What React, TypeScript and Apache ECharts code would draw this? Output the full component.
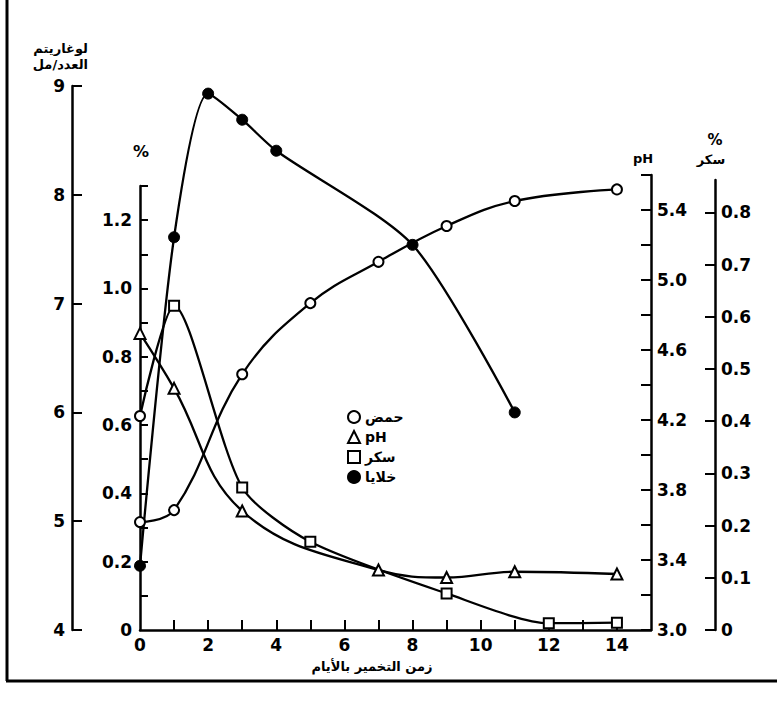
import React, { useEffect, useRef } from 'react';
import * as echarts from 'echarts';

// ---- data ----
const acidDays = [0, 1, 3, 5, 7, 9, 11, 14];
const acidValues = [0.316, 0.351, 0.749, 0.957, 1.078, 1.183, 1.256, 1.29];

const phDays = [0, 1, 3, 7, 9, 11, 14];
const phValues = [4.695, 4.381, 3.68, 3.343, 3.3, 3.333, 3.32];

const sugarDays = [0, 1, 3, 5, 9, 12, 14];
const sugarValues = [0.41, 0.621, 0.273, 0.169, 0.07, 0.013, 0.014];

const cellDays = [0, 1, 2, 3, 4, 8, 11];
const cellValues = [4.59, 7.61, 8.93, 8.69, 8.405, 7.54, 6.0];

// ---- ticks and labels ----
const xTicks = [1, 2, 3, 4, 5, 6, 7, 8, 9, 10, 11, 12, 13, 14];
const xLabels = [0, 2, 4, 6, 8, 10, 12, 14];
const acidTicks = [0.1, 0.2, 0.3, 0.4, 0.5, 0.6, 0.7, 0.8, 0.9, 1.0, 1.1, 1.2, 1.3];
const acidLabels = [0, 0.2, 0.4, 0.6, 0.8, 1.0, 1.2];
const phTicks = [3.0, 3.2, 3.4, 3.6, 3.8, 4.0, 4.2, 4.4, 4.6, 4.8, 5.0, 5.2, 5.4, 5.6];
const phLabels = [3.0, 3.4, 3.8, 4.2, 4.6, 5.0, 5.4];
const sugarTicks = [0, 0.1, 0.2, 0.3, 0.4, 0.5, 0.6, 0.7, 0.8];
const sugarLabels = [0, 0.1, 0.2, 0.3, 0.4, 0.5, 0.6, 0.7, 0.8];
const logTicks = [4, 5, 6, 7, 8, 9];
const logLabels = [4, 5, 6, 7, 8, 9];

const names = { acid: 'حمض', ph: 'pH', sugar: 'سكر', cells: 'خلايا' };

const BLACK = '#000';
const numFont = { fontFamily: 'DejaVu Sans', fontWeight: 'bold' as const, fontSize: 17, color: BLACK };
const arFont = '"DejaVu Sans"';

function pairs(xs: number[], ys: number[]) {
  return xs.map((x, i) => [x, ys[i]]);
}

function mkLine() {
  return { show: true, onZero: false, lineStyle: { color: BLACK, width: 2.5 } };
}
function mkTick(values: number[], length: number) {
  return { show: true, inside: true, length, lineStyle: { color: BLACK, width: 2 }, customValues: values };
}

export default function App() {
  const ref = useRef<HTMLDivElement>(null);
  useEffect(() => {
    if (!ref.current) return;
    const chart = echarts.init(ref.current, undefined, { renderer: 'svg' });
    const gridBase = { left: 140, right: 126, bottom: 71 };
    const hiddenX = (gi: number) => ({
      type: 'value', gridIndex: gi, min: 0, max: 15,
      axisLine: { show: false, onZero: false }, axisTick: { show: false }, axisLabel: { show: false }, splitLine: { show: false },
    });

    const option: any = {
      animation: false,
      backgroundColor: '#fff',
      grid: [
        { ...gridBase, top: 86 },
        { ...gridBase, top: 186 },
        { ...gridBase, top: 175 },
        { ...gridBase, top: 180 },
      ],
      xAxis: [
        hiddenX(0),
        {
          type: 'value', gridIndex: 1, min: 0, max: 15,
          axisLine: mkLine(),
          axisTick: mkTick(xTicks, 10),
          axisLabel: { ...numFont, margin: 6, customValues: xLabels, formatter: (v: number) => String(v) },
          splitLine: { show: false },
        },
        hiddenX(2),
        hiddenX(3),
      ],
      yAxis: [
        {
          type: 'value', gridIndex: 0, min: 4, max: 9, position: 'left', offset: 68,
          axisLine: mkLine(),
          axisTick: mkTick(logTicks, 10),
          axisLabel: { ...numFont, margin: 7, customValues: logLabels, formatter: (v: number) => String(v) },
          splitLine: { show: false },
        },
        {
          type: 'value', gridIndex: 1, min: 0, max: 1.3, position: 'left',
          axisLine: mkLine(),
          axisTick: mkTick(acidTicks, 8),
          axisLabel: { ...numFont, margin: 8, customValues: acidLabels, formatter: (v: number) => (v === 0 ? '0' : v.toFixed(1)) },
          splitLine: { show: false },
        },
        {
          type: 'value', gridIndex: 2, min: 3, max: 5.6, position: 'right',
          axisLine: mkLine(),
          axisTick: mkTick(phTicks, 10),
          axisLabel: { ...numFont, margin: 6, customValues: phLabels, formatter: (v: number) => v.toFixed(1) },
          splitLine: { show: false },
        },
        {
          type: 'value', gridIndex: 3, min: 0, max: 0.862, position: 'right', offset: 64,
          axisLine: mkLine(),
          axisTick: mkTick(sugarTicks, 10),
          axisLabel: { ...numFont, margin: 6, customValues: sugarLabels, formatter: (v: number) => (v === 0 ? '0' : v.toFixed(1)) },
          splitLine: { show: false },
        },
      ],
      legend: {
        orient: 'vertical', left: 342, top: 405, itemWidth: 12, itemHeight: 12, itemGap: 6,
        selectedMode: false,
        textStyle: { fontFamily: arFont, fontWeight: 'bold', fontSize: 14, color: BLACK },
        data: [
          { name: names.acid, icon: 'circle' },
          { name: names.ph, icon: 'triangle' },
          { name: names.sugar, icon: 'rect' },
          { name: names.cells, icon: 'circle' },
        ],
      },
      series: [
        {
          name: names.acid, type: 'line', xAxisIndex: 1, yAxisIndex: 1,
          data: pairs(acidDays, acidValues), smooth: 0.4,
          symbol: 'circle', symbolSize: 10,
          itemStyle: { color: '#fff', borderColor: BLACK, borderWidth: 2 },
          lineStyle: { color: BLACK, width: 2.3 }, z: 4,
        },
        {
          name: names.ph, type: 'line', xAxisIndex: 2, yAxisIndex: 2,
          data: pairs(phDays, phValues), smooth: 0.4,
          symbol: 'triangle', symbolSize: 11,
          itemStyle: { color: '#fff', borderColor: BLACK, borderWidth: 2 },
          lineStyle: { color: BLACK, width: 2.3 }, z: 4,
        },
        {
          name: names.sugar, type: 'line', xAxisIndex: 3, yAxisIndex: 3,
          data: sugarDays.map((d, i) => ({ value: [d, sugarValues[i]], symbol: i === 0 ? 'circle' : 'rect' })),
          smooth: 0.25,
          symbol: 'rect', symbolSize: 10,
          itemStyle: { color: '#fff', borderColor: BLACK, borderWidth: 2 },
          lineStyle: { color: BLACK, width: 2.3 }, z: 4,
        },
        {
          name: names.cells, type: 'line', xAxisIndex: 0, yAxisIndex: 0,
          data: pairs(cellDays, cellValues), smooth: 0.25,
          symbol: 'circle', symbolSize: 11,
          itemStyle: { color: BLACK, borderColor: BLACK, borderWidth: 1 },
          lineStyle: { color: BLACK, width: 2.3 }, z: 4,
        },
      ],
      graphic: [
        { type: 'line', shape: { x1: 7, y1: 0, x2: 7, y2: 681 }, style: { stroke: BLACK, lineWidth: 3 } },
        { type: 'line', shape: { x1: 6, y1: 681, x2: 777, y2: 681 }, style: { stroke: BLACK, lineWidth: 3 } },
        { type: 'text', x: 88, y: 48, style: { text: 'لوغاريتم', font: `bold 13px ${arFont}`, fill: BLACK, textAlign: 'right', textVerticalAlign: 'middle' } },
        { type: 'text', x: 88, y: 64, style: { text: 'العدد/مل', font: `bold 13px ${arFont}`, fill: BLACK, textAlign: 'right', textVerticalAlign: 'middle' } },
        { type: 'text', x: 141, y: 151, style: { text: '%', font: `bold 16px ${arFont}`, fill: BLACK, textAlign: 'center', textVerticalAlign: 'middle' } },
        { type: 'text', x: 643, y: 158, style: { text: 'pH', font: `bold 13px ${arFont}`, fill: BLACK, textAlign: 'center', textVerticalAlign: 'middle' } },
        { type: 'text', x: 715, y: 140, style: { text: '%', font: `bold 15px ${arFont}`, fill: BLACK, textAlign: 'center', textVerticalAlign: 'middle' } },
        { type: 'text', x: 711, y: 159, style: { text: 'سكر', font: `bold 13px ${arFont}`, fill: BLACK, textAlign: 'center', textVerticalAlign: 'middle' } },
        { type: 'text', x: 372, y: 666, style: { text: 'زمن التخمير بالأيام', font: `bold 13px ${arFont}`, fill: BLACK, textAlign: 'center', textVerticalAlign: 'middle' } },
      ],
    };
    chart.setOption(option);
    return () => chart.dispose();
  }, []);
  return <div ref={ref} style={{ position: 'absolute', left: 0, top: 0, width: 777, height: 701 }} />;
}
